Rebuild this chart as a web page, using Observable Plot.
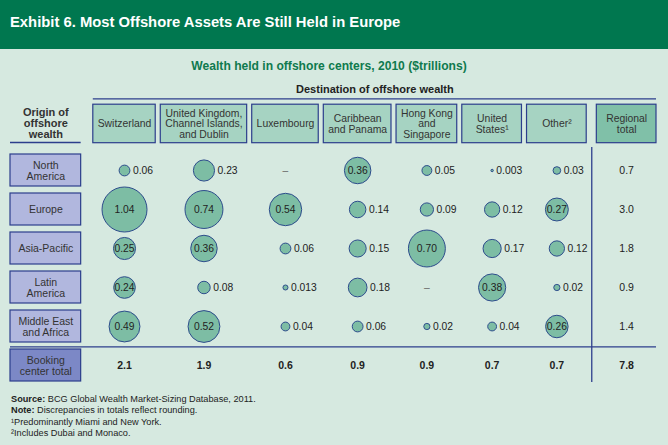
<!DOCTYPE html>
<html><head><meta charset="utf-8">
<script src="https://cdn.jsdelivr.net/npm/d3@7"></script>
<script src="https://cdn.jsdelivr.net/npm/@observablehq/plot@0.6"></script>
<style>
html,body{margin:0;padding:0;}
body{width:668px;height:445px;overflow:hidden;background:#d6e9e0;font-family:"Liberation Sans",Arial,sans-serif;position:relative;}
#head{position:absolute;left:0;top:0;width:668px;height:49px;background:#00774f;}
#title{position:absolute;left:10px;top:0;line-height:45px;color:#fff;font-weight:bold;font-size:14.8px;white-space:nowrap;}
#subtitle{position:absolute;left:0;top:58px;width:658px;text-align:center;font-weight:bold;font-size:12.1px;color:#0f7a4e;line-height:16px;}
#chart{position:absolute;left:0;top:78px;}
#notes{position:absolute;left:11px;top:394px;font-size:9.2px;line-height:11.3px;color:#222;white-space:nowrap;}
</style></head>
<body>
<div id="head"><div id="title">Exhibit 6. Most Offshore Assets Are Still Held in Europe</div></div>
<div id="subtitle">Wealth held in offshore centers, 2010 ($trillions)</div>
<div id="chart"></div>
<div id="notes">
<div><b>Source:</b> BCG Global Wealth Market-Sizing Database, 2011.</div>
<div><b>Note:</b> Discrepancies in totals reflect rounding.</div>
<div>¹Predominantly Miami and New York.</div>
<div>²Includes Dubai and Monaco.</div>
</div>
<script>
// ---- data ----
const origins = ["North America", "Europe", "Asia-Pacific", "Latin America", "Middle East and Africa"];
const originLabels = ["North\nAmerica", "Europe", "Asia-Pacific", "Latin\nAmerica", "Middle East\nand Africa"];
const destinations = ["Switzerland", "United Kingdom, Channel Islands, and Dublin", "Luxembourg", "Caribbean and Panama", "Hong Kong and Singapore", "United States", "Other"];
const destinationLabels = ["Switzerland", "United Kingdom,\nChannel Islands,\nand Dublin", "Luxembourg", "Caribbean\nand Panama", "Hong Kong\nand\nSingapore", "United\nStates¹", "Other²"];
const northAmerica = [0.06, 0.23, null, 0.36, 0.05, 0.003, 0.03];
const europe = [1.04, 0.74, 0.54, 0.14, 0.09, 0.12, 0.27];
const asiaPacific = [0.25, 0.36, 0.06, 0.15, 0.70, 0.17, 0.12];
const latinAmerica = [0.24, 0.08, 0.013, 0.18, null, 0.38, 0.02];
const middleEastAfrica = [0.49, 0.52, 0.04, 0.06, 0.02, 0.04, 0.26];
const regionalTotals = [0.7, 3.0, 1.8, 0.9, 1.4];
const bookingCenterTotals = [2.1, 1.9, 0.6, 0.9, 0.9, 0.7, 0.7];
const grandTotal = 7.8;
const originHeader = "Origin of\noffshore\nwealth";
const totalHeader = "Regional\ntotal";
const bookingLabel = "Booking\ncenter total";
const destinationTitle = "Destination of offshore wealth";

// ---- table layout (column widths from measured header text) ----
const FONT = "'Liberation Sans', Arial, sans-serif";
const ctx = document.createElement("canvas").getContext("2d");
function textWidth(label, font) {
  ctx.font = font;
  return d3.max(label.split("\n"), l => ctx.measureText(l).width);
}
const originW = d3.max([...originLabels, bookingLabel].map(l => textWidth(l, `10.5px ${FONT}`)).concat(textWidth(originHeader, `bold 11px ${FONT}`))) + 15;
let cur = 0;
const originCol = {x1: cur, x2: cur + originW};
cur += originW + 12;
const destCols = destinations.map((name, i) => {
  const w = Math.max(59, textWidth(destinationLabels[i], `10.4px ${FONT}`) + 8);
  const c = {name, label: destinationLabels[i], x1: cur, x2: cur + w};
  cur += w + 5;
  return c;
});
cur += 5;
const totalCol = {label: totalHeader, x1: cur, x2: cur + Math.max(59, textWidth(totalHeader, `10.4px ${FONT}`) + 8)};
const layoutEnd = totalCol.x2;
const sepX = (destCols[destCols.length - 1].x2 + totalCol.x1) / 2;
const mid = c => (c.x1 + c.x2) / 2;

const HEADER = "header", BOOK = "Booking center total";
const rows = [HEADER, ...origins, BOOK];
const navy = "#2c3e8c";

const valueRows = [northAmerica, europe, asiaPacific, latinAmerica, middleEastAfrica];
const cells = [];
valueRows.forEach((arr, i) => arr.forEach((v, j) => cells.push({origin: origins[i], col: destCols[j], value: v})));
const present = cells.filter(d => d.value != null);
const inside = present.filter(d => d.value >= 0.24);
const outside = present.filter(d => d.value < 0.24);
const missing = cells.filter(d => d.value == null);
const fmt = v => { const s = v.toFixed(3); return s.endsWith("0") ? v.toFixed(2) : s; };

const xOpts = {type: "linear", domain: [0, layoutEnd], range: [10, 656]};
const rOpts = {type: "sqrt", domain: [0, d3.max(present, d => d.value)], range: [0, 22.5]};
const xScale = Plot.scale({x: xOpts});
const rScale = Plot.scale({r: rOpts});
const labelX = d => xScale.invert(xScale.apply(mid(d.col)) + rScale.apply(d.value) + 3);

const chart = Plot.plot({
  width: 668, height: 312,
  marginTop: 31.2, marginBottom: 3.6, marginLeft: 10, marginRight: 12,
  style: {fontFamily: FONT, fontSize: "10.4px", color: "#333", background: "transparent"},
  x: {...xOpts, axis: null},
  y: {type: "band", domain: rows, paddingInner: 0.18, paddingOuter: 0.09, axis: null},
  r: rOpts,
  marks: [
    // header
    Plot.text([destinationTitle], {x: (destCols[0].x1 + totalCol.x2) / 2, y: () => HEADER, text: d => d, dy: -42, fontWeight: "bold", fontSize: 11, fill: "#222"}),
    Plot.ruleY([HEADER], {x1: destCols[0].x1, x2: totalCol.x2, stroke: navy, strokeWidth: 1.3, dy: -32.7}),
    Plot.barX(destCols, {x1: "x1", x2: "x2", y: () => HEADER, fill: "#a6d3c2", stroke: navy, strokeWidth: 1.2, insetTop: -10.8, insetBottom: 4.3}),
    Plot.barX([totalCol], {x1: "x1", x2: "x2", y: () => HEADER, fill: "#80c0a8", stroke: navy, strokeWidth: 1.2, insetTop: -10.8, insetBottom: 4.3}),
    Plot.text([...destCols, totalCol], {x: mid, y: () => HEADER, text: "label", dy: -7.5, lineHeight: 1.03, fontSize: 10.4, fill: "#333"}),
    Plot.text([originHeader], {x: mid(originCol), y: () => HEADER, text: d => d, dy: -8, fontWeight: "bold", fontSize: 11, lineHeight: 1.0, fill: "#333"}),
    Plot.ruleY([HEADER], {x1: originCol.x1, x2: originCol.x2, stroke: navy, strokeWidth: 1.3, dy: 11}),
    // row boxes
    Plot.barX(origins, {x1: originCol.x1, x2: originCol.x2, y: d => d, fill: "#b1b7de", stroke: navy, strokeWidth: 1.2}),
    Plot.barX([BOOK], {x1: originCol.x1, x2: originCol.x2, y: d => d, fill: "#7c88c6", stroke: navy, strokeWidth: 1.2}),
    Plot.text(origins, {x: mid(originCol), y: d => d, text: (d, i) => originLabels[i], lineHeight: 1.05, fontSize: 10.5, fill: "#333"}),
    Plot.text([BOOK], {x: mid(originCol), y: d => d, text: () => bookingLabel, lineHeight: 1.05, fontSize: 10.5, fill: "#333"}),
    // separators
    Plot.ruleX([sepX], {x: d => d, y1: () => origins[0], y2: () => BOOK, insetTop: -7, insetBottom: -1, stroke: navy, strokeWidth: 1.3}),
    Plot.ruleY([BOOK], {x1: originCol.x1, x2: totalCol.x2, stroke: navy, strokeWidth: 1.3, dy: -18.6}),
    // bubbles
    Plot.dot(present, {x: d => mid(d.col), y: "origin", r: "value", fill: "#7dbda4", stroke: "#2d4c8c", strokeWidth: 1}),
    Plot.text(inside, {x: d => mid(d.col), y: "origin", text: d => fmt(d.value), fontSize: 10.3, fill: "#222"}),
    Plot.text(outside, {x: labelX, y: "origin", text: d => fmt(d.value), textAnchor: "start", fontSize: 10.3, fill: "#222"}),
    Plot.text(missing, {x: d => mid(d.col), y: "origin", text: () => "–", fontSize: 10.3, fill: "#666"}),
    // totals
    Plot.text(origins, {x: mid(totalCol), y: d => d, text: (d, i) => regionalTotals[i].toFixed(1), fontSize: 10.5, fill: "#222"}),
    Plot.text(destCols, {x: mid, y: () => BOOK, text: (d, i) => bookingCenterTotals[i].toFixed(1), fontSize: 10.5, fontWeight: "bold", fill: "#222"}),
    Plot.text([grandTotal], {x: mid(totalCol), y: () => BOOK, text: d => d.toFixed(1), fontSize: 10.5, fontWeight: "bold", fill: "#222"})
  ]
});
document.getElementById("chart").appendChild(chart);
</script>
</body></html>
